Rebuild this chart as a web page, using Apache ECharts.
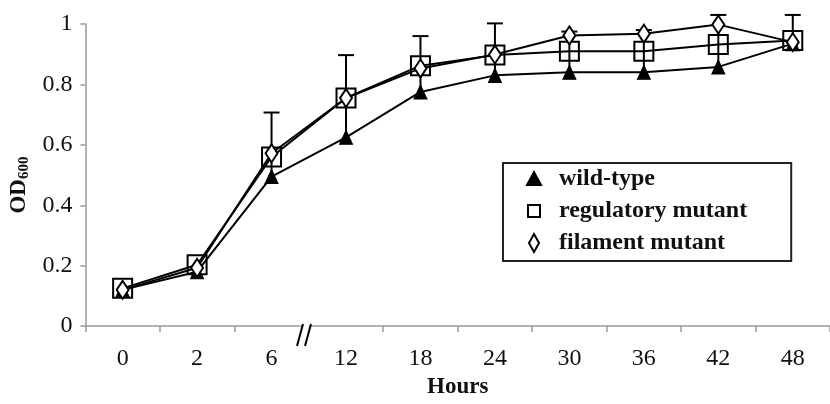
<!DOCTYPE html>
<html>
<head>
<meta charset="utf-8">
<script src="https://cdn.jsdelivr.net/npm/echarts@6/dist/echarts.min.js"></script>
<style>
html,body{margin:0;padding:0;background:#fff;}
#chart{width:830px;height:404px;}
</style>
</head>
<body>
<div id="chart"></div>
<script>
const categories = ['0', '2', '6', '12', '18', '24', '30', '36', '42', '48'];
const wildType   = [0.12, 0.18, 0.495, 0.625, 0.775, 0.83, 0.84, 0.84, 0.858, 0.935];
const wildTypeErr = [0, 0, 0.212, 0.272, 0.185, 0.172, 0.135, 0.14, 0.172, 0.095];
const regulatory = [0.125, 0.203, 0.56, 0.755, 0.862, 0.897, 0.91, 0.91, 0.932, 0.945];
const filament   = [0.12, 0.193, 0.572, 0.755, 0.853, 0.899, 0.962, 0.968, 0.998, 0.94];
const seriesNames = ['wild-type', 'regulatory mutant', 'filament mutant'];

const serif = 'Liberation Serif, Times New Roman, serif';
const errData = categories.map((c, i) => [i, wildType[i], wildType[i] + wildTypeErr[i]]);

// legend icon outlines drawn inside a 20x20 box (corner moves fix the box)
const iconTriangle = 'path://M0,0M20,20M3,16L17,16L10,3Z';
const iconSquare = 'path://M0,0M20,20M4,4L16,4L16,16L4,16Z';
const iconDiamond = 'path://M0,0M20,20M10,1L15,10L10,19L5,10Z';

const chart = echarts.init(document.getElementById('chart'), null, {renderer: 'canvas'});
chart.setOption({
  animation: false,
  backgroundColor: '#fff',
  grid: {left: 84, top: 24, right: -5, bottom: 72},
  xAxis: {
    type: 'category',
    data: categories,
    boundaryGap: true,
    name: 'Hours',
    nameLocation: 'middle',
    nameGap: 48,
    nameTextStyle: {fontFamily: serif, fontWeight: 'bold', fontSize: 23, color: '#111'},
    axisLine: {lineStyle: {color: '#999', width: 1.5}},
    axisTick: {show: true, length: 6, lineStyle: {color: '#999', width: 1.5}},
    axisLabel: {fontFamily: serif, fontSize: 24, color: '#111', margin: 21},
    splitLine: {show: false}
  },
  yAxis: {
    type: 'value',
    min: 0, max: 1, interval: 0.2,
    name: '{a|OD}{b|600}',
    nameLocation: 'middle',
    nameRotate: 90,
    nameGap: 52,
    nameTextStyle: {
      padding: [0, 20, 0, 0],
      rich: {
        a: {fontFamily: serif, fontWeight: 'bold', fontSize: 23, color: '#111', lineHeight: 24, verticalAlign: 'middle'},
        b: {fontFamily: serif, fontWeight: 'bold', fontSize: 15, color: '#111', lineHeight: 15, verticalAlign: 'bottom'}
      }
    },
    axisLine: {show: true, lineStyle: {color: '#999', width: 1.5}},
    axisTick: {show: true, length: 5, lineStyle: {color: '#999', width: 1.5}},
    axisLabel: {fontFamily: serif, fontSize: 24, color: '#111', margin: 13},
    splitLine: {show: false}
  },
  legend: {
    orient: 'vertical',
    left: 503, top: 163,
    padding: [4, 44, 6, 20],
    itemGap: 8,
    itemWidth: 20, itemHeight: 20,
    borderColor: '#222', borderWidth: 2,
    backgroundColor: '#fff',
    textStyle: {fontFamily: serif, fontWeight: 'bold', fontSize: 24, color: '#111', padding: [0, 0, 0, 10]},
    data: [
      {name: seriesNames[0], icon: iconTriangle},
      {name: seriesNames[1], icon: iconSquare},
      {name: seriesNames[2], icon: iconDiamond}
    ]
  },
  series: [
    {
      type: 'custom',
      name: 'err',
      clip: false,
      z: 1,
      data: errData,
      renderItem: function (params, api) {
        const p0 = api.coord([api.value(0), api.value(1)]);
        const p1 = api.coord([api.value(0), api.value(2)]);
        if (Math.abs(p0[1] - p1[1]) < 1) return null;
        const st = {stroke: '#000', lineWidth: 2};
        return {type: 'group', children: [
          {type: 'line', shape: {x1: p0[0], y1: p0[1], x2: p1[0], y2: p1[1]}, style: st},
          {type: 'line', shape: {x1: p1[0] - 8, y1: p1[1], x2: p1[0] + 8, y2: p1[1]}, style: st}
        ]};
      }
    },
    {
      type: 'line', name: seriesNames[0], data: wildType, z: 2,
      symbol: 'triangle', symbolSize: [13, 14], showAllSymbol: true,
      lineStyle: {color: '#000', width: 2},
      itemStyle: {color: '#000', borderColor: '#000', borderWidth: 1}
    },
    {
      type: 'line', name: seriesNames[1], data: regulatory, z: 3,
      symbol: 'rect', symbolSize: [19, 19], showAllSymbol: true,
      lineStyle: {color: '#000', width: 2},
      itemStyle: {color: 'rgba(255,255,255,0)', borderColor: '#000', borderWidth: 2}
    },
    {
      type: 'line', name: seriesNames[2], data: filament, z: 4,
      symbol: 'diamond', symbolSize: [12, 18], showAllSymbol: true,
      lineStyle: {color: '#000', width: 2},
      itemStyle: {color: '#fff', borderColor: '#000', borderWidth: 2}
    }
  ],
  graphic: [
    {type: 'polygon', z: 100, shape: {points: [[298, 346], [304, 324], [310, 324], [304, 346]]}, style: {fill: '#fff'}},
    {type: 'line', z: 101, shape: {x1: 297, y1: 346, x2: 303, y2: 324}, style: {stroke: '#000', lineWidth: 2}},
    {type: 'line', z: 101, shape: {x1: 305, y1: 346, x2: 311, y2: 324}, style: {stroke: '#000', lineWidth: 2}}
  ]
});
</script>
</body>
</html>
